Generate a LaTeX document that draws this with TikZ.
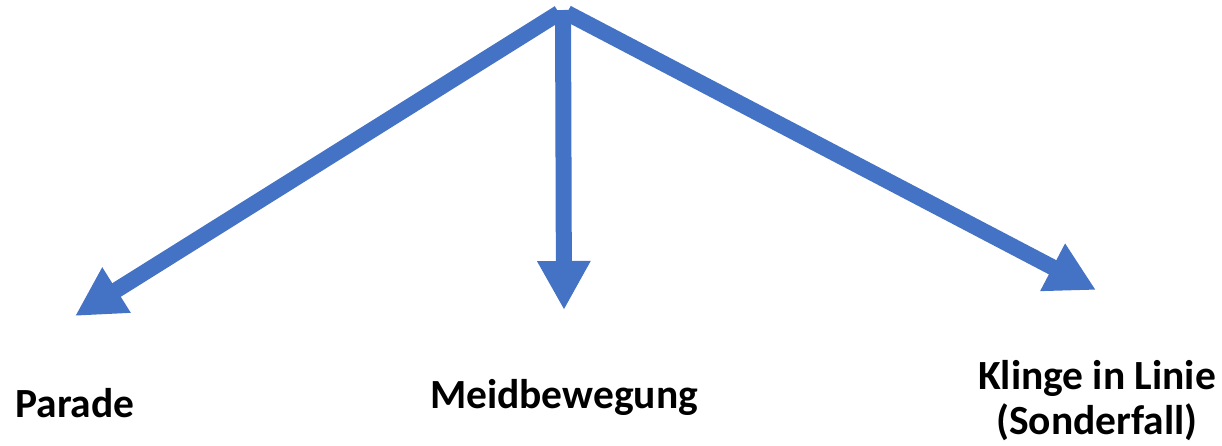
\documentclass[tikz,border=0pt]{standalone}
\usepackage{fontspec}
\setmainfont{Carlito}
\usetikzlibrary{arrows.meta}
\definecolor{arrowblue}{HTML}{4472C4}
\tikzset{
  bigarrow/.style={draw=arrowblue, line width=16pt, line cap=butt,
    -{Triangle[length=49pt,width=50pt]}},
  label/.style={font=\bfseries\fontsize{41.5}{45}\selectfont, align=center, inner sep=0pt}
}
\begin{document}
\begin{tikzpicture}[x=1pt,y=-1pt]
\useasboundingbox (0,0) rectangle (1222,445);
\coordinate (topL) at (559,13);
\coordinate (topM) at (563,10);
\coordinate (topR) at (567,13);
\coordinate (tipL) at (75,316);
\coordinate (tipM) at (564,310);
\coordinate (tipR) at (1096,290);
\draw[bigarrow] (topL) -- (tipL);
\draw[bigarrow] (topR) -- (tipR);
\draw[bigarrow] (topM) -- (tipM);
\node[label] (parade) at (75,403) {Parade};
\node[label] (meid) at (564,397) {Meidbewegung};
\node[label] (klinge) at (1097,401) {Klinge in Linie\\(Sonderfall)};
\end{tikzpicture}
\end{document}
